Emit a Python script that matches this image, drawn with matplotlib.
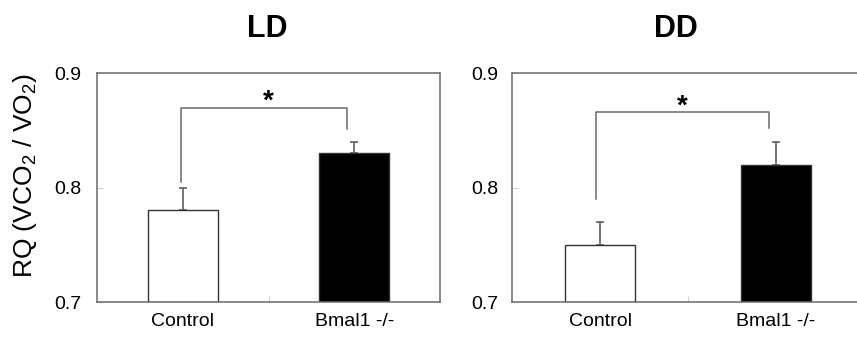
import matplotlib
matplotlib.use("Agg")
import matplotlib.pyplot as plt

plt.rcParams['font.family'] = ['Liberation Sans', 'DejaVu Sans']
plt.rcParams['mathtext.fontset'] = 'custom'
plt.rcParams['mathtext.rm'] = 'Liberation Sans'
plt.rcParams['mathtext.default'] = 'regular'

categories = ["Control", "Bmal1 -/-"]
panels = ["LD", "DD"]
ld_means = [0.78, 0.83]
ld_errs = [0.02, 0.01]
dd_means = [0.75, 0.82]
dd_errs = [0.02, 0.02]
ld_bracket = {"x": [0.49, 1.46], "top": 0.869, "legs": [0.805, 0.851], "star": (1.0, 0.875)}
dd_bracket = {"x": [0.48, 1.46], "top": 0.866, "legs": [0.790, 0.852], "star": (0.97, 0.871)}
yticks = [0.7, 0.8, 0.9]

W, H = 857, 340
fig = plt.figure(figsize=(W / 100, H / 100), dpi=100)

line_col = '#6a6a6a'
axes_specs = [
    (97, 440, ld_means, ld_errs, ld_bracket, 0.41, 11),
    (512, 864, dd_means, dd_errs, dd_bracket, 0.40, 10),
]
for (x0, x1, means, errs, br, bw, ypad) in axes_specs:
    ax = fig.add_axes([x0 / W, (H - 302) / H, (x1 - x0) / W, (302 - 73) / H])
    xs = [0.5, 1.5]
    ax.bar(xs, [m - 0.7 for m in means], bottom=0.7, width=bw,
           color=['white', 'black'], edgecolor=['#333333', '#333333'], linewidth=1.0, zorder=2)
    ax.errorbar(xs, means, yerr=[[0, 0], errs], fmt='none', ecolor=line_col,
                elinewidth=1.3, capsize=3, capthick=1.3, zorder=1)
    bx = br["x"]
    ax.plot([bx[0], bx[0], bx[1], bx[1]], [br["legs"][0], br["top"], br["top"], br["legs"][1]],
            color=line_col, lw=1.1, zorder=3)
    ax.text(br["star"][0], br["star"][1], '*', ha='center', va='center', fontsize=20,
            fontweight='bold', color='black')
    ax.set_xlim(0, 2)
    ax.set_ylim(0.7, 0.9)
    ax.set_yticks(yticks)
    ax.set_yticklabels([f"{t:.1f}" for t in yticks])
    ax.set_xticks([1.0])
    ax.set_xticklabels([''])
    ax.set_xticks(xs, minor=True)
    ax.set_xticklabels(categories, minor=True)
    ax.tick_params(axis='x', which='minor', length=0, pad=8, labelsize=14)
    ax.tick_params(axis='x', which='major', direction='in', length=4, color='#d0d0d0')
    ax.tick_params(axis='y', direction='in', length=4, color='#d0d0d0', pad=ypad, labelsize=14)
    for s in ax.spines.values():
        s.set_color(line_col)
        s.set_linewidth(1.1)

fig.text(25 / W, 1 - 176 / H, r'RQ (VCO$_2$ / VO$_2$)', rotation=90, ha='center', va='center',
         fontsize=19)
fig.text(267 / W, 1 - 36.7 / H, panels[0], ha='center', va='baseline', fontsize=22, fontweight='bold')
fig.text(676 / W, 1 - 36.7 / H, panels[1], ha='center', va='baseline', fontsize=22, fontweight='bold')

fig.savefig('out.png', dpi=100, facecolor='white')
